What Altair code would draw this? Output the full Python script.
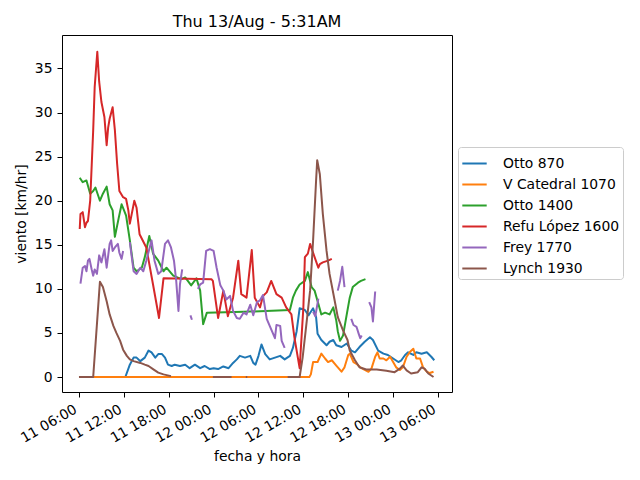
import altair as alt
import pandas as pd

series_names = ["Otto 870", "V Catedral 1070", "Otto 1400", "Refu López 1600", "Frey 1770", "Lynch 1930"]
series_colors = ["#1f77b4", "#ff7f0e", "#2ca02c", "#d62728", "#9467bd", "#8c564b"]
tick_hours = [0, 6, 12, 18, 24, 30, 36, 42, 48]
tick_labels = ["11 06:00", "11 12:00", "11 18:00", "12 00:00", "12 06:00",
               "12 12:00", "12 18:00", "13 00:00", "13 06:00"]
y_ticks = [0, 5, 10, 15, 20, 25, 30, 35]

# hours since 11/Aug 06:00, wind in km/h; None marks a gap in the record
otto870_h = [6.2, 6.8, 7.3, 7.7, 8.2, 8.8, 9.3, 9.7, 10.2, 10.6, 11.1, 11.5, 11.9, 12.4, 12.8,
             13.5, 14.2, 14.8, 15.5, 16.2, 16.8, 17.5, 18.0, 18.6, 19.3, 20.0, 20.6, 21.1, 21.5,
             22.2, 22.9, 23.3, 23.6, 24.0, 24.4, 24.9, 25.5, 26.2, 26.9, 27.5, 28.2, 28.6, 29.1,
             29.5, 30.2, 30.7, 31.3, 31.7, 31.9, 32.4, 33.1, 33.5, 34.0, 34.4, 35.1, 35.8, 36.4,
             36.9, 37.5, 38.2, 38.9, 39.3, 40.0, 40.7, 41.3, 42.0, 42.7, 43.1, 43.6, 44.0, 44.7,
             45.1, 45.8, 46.5, 47.1, 47.5]
otto870_v = [0.0, 1.4, 2.2, 2.2, 1.8, 2.2, 3.0, 2.8, 2.2, 2.6, 2.6, 2.2, 1.4, 1.25, 1.4,
             1.25, 1.4, 1.0, 1.4, 1.0, 1.25, 0.9, 1.0, 0.9, 1.2, 1.0, 1.6, 2.0, 2.4,
             2.2, 2.4, 1.6, 1.4, 2.4, 3.7, 2.6, 2.0, 2.2, 2.4, 2.0, 2.4, 3.3, 5.2,
             7.8, 7.6, 7.0, 7.8, 6.8, 4.9, 4.2, 3.6, 4.0, 4.2, 3.6, 3.4, 3.8, 3.0,
             2.8, 3.4, 4.0, 4.5, 4.2, 3.0, 2.65, 2.5, 2.1, 1.7, 1.9, 2.5, 2.8, 2.5,
             2.8, 2.65, 2.8, 2.3, 1.9]

vcatedral_h = [0.0, 30.8, 31.0, 31.3, 31.9, 32.4, 32.9, 33.3, 33.8, 34.4, 35.1, 35.5, 36.0, 36.2,
               36.7, 37.1, 37.6, 38.2, 38.7, 39.1, 39.6, 39.9, 40.2, 40.7, 41.1, 41.6, 42.0, 42.4,
               42.9, 43.3, 43.8, 44.2, 44.7, 45.1, 45.6, 46.0, 46.5, 46.9, 47.4]
vcatedral_v = [0.0, 0.0, 0.3, 1.7, 1.7, 2.65, 2.1, 1.7, 1.9, 1.3, 0.6, 1.1, 2.5, 2.65,
               1.7, 1.5, 1.1, 0.8, 0.6, 0.95, 2.3, 2.8, 2.1, 2.1, 1.9, 2.3, 1.7, 1.1,
               0.8, 1.1, 2.3, 2.8, 3.2, 2.1, 2.1, 1.1, 0.6, 0.45, 0.6]

otto1400_h = [0.1, 0.5, 1.0, 1.5, 1.9, 2.2, 2.8, 3.2, 3.7, 4.1, 4.5, 4.8, 5.3, 5.7, 6.3, 6.8,
              7.3, 7.7, 8.4, 8.8, 9.4, 9.9, 10.6, 11.3, 11.7, 12.6, 13.7, 14.2, 15.0, 15.7,
              16.2, 16.6, 17.1, 22.0, 28.2, 28.6, 29.0, 29.5, 30.2, 30.6, 31.1, 31.5, 32.0,
              32.4, 32.9, 33.5, 34.0, 34.4, 34.6, 34.9, 35.3, 35.8, 36.2, 36.6, 37.3, 37.7, 38.3]
otto1400_v = [22.6, 22.1, 22.3, 20.8, 21.1, 21.5, 20.0, 20.8, 21.6, 19.6, 18.9, 15.9, 18.0, 19.6, 18.3, 15.5,
              12.4, 12.0, 12.4, 13.6, 16.0, 14.0, 13.2, 12.0, 12.4, 11.5, 11.1, 11.3, 10.4, 11.2,
              9.8, 6.0, 7.3, 7.4, 7.6, 9.0, 9.8, 10.5, 10.9, 11.9, 10.2, 9.8, 8.3,
              7.1, 7.3, 7.1, 7.9, 6.4, 5.2, 4.1, 4.7, 7.1, 9.0, 10.2, 10.7, 10.9, 11.1]

refu_h = [0.1, 0.2, 0.5, 0.8, 1.0, 1.2, 1.5, 1.9, 2.1, 2.45, 2.7, 3.0, 3.4, 3.7, 3.9, 4.1, 4.5,
          4.8, 5.1, 5.4, 5.9, 6.3, 6.6, 6.8, 7.4, 7.7, 8.1, 9.0, 9.9, 10.7, 11.3, 17.7, 17.9,
          18.6, 19.3, 19.9, 20.6, 21.3, 21.7, 22.4, 23.1, 23.5, 24.2, 24.6, 25.1, 25.7, 26.4,
          27.1, 27.7, 28.4, 28.8, 29.5, 30.0, 30.2, 30.6, 30.9, 31.5, 32.0, 32.2, 32.6, 33.3, 33.8]
refu_v = [16.8, 18.5, 18.7, 17.0, 17.5, 17.7, 20.0, 28.0, 32.9, 36.9, 33.5, 31.2, 29.5, 26.3, 28.3, 29.3, 30.6,
          28.0, 24.2, 21.1, 20.4, 20.2, 18.9, 17.4, 20.0, 19.2, 16.2, 14.7, 10.5, 6.7, 11.2, 11.1, 10.9,
          6.7, 9.8, 6.9, 9.0, 13.2, 9.4, 9.0, 14.4, 9.0, 7.9, 9.2, 9.6, 10.9, 9.4,
          9.0, 7.9, 7.1, 4.5, 1.0, 7.9, 13.6, 14.0, 15.1, 13.6, 12.4, 12.8, 13.0, 13.2, 13.4]

frey_h = [0.2, 0.5, 0.8, 1.0, 1.2, 1.4, 1.7, 1.9, 2.1, 2.4, 2.7, 3.0, 3.4, 3.7, 4.1, 4.3, 4.5,
          4.8, 5.2, 5.4, 5.7, 5.9, None,
          6.8, 7.3, 7.7, 8.2, 8.6, 9.0, 9.7, 10.1, 10.6, 11.0, 11.5, 11.9, 12.3, 12.7, 13.0,
          13.3, 13.5, 13.8, None,
          14.9, 15.1, None,
          15.9, 16.2, 16.6, 17.0, 17.5, 18.0, 18.4, 18.9, 19.3, 19.7, 20.2, 20.6, 21.1, 21.5,
          22.0, 22.4, 22.9, 23.3, 23.8, 24.2, 24.6, 25.1, 25.5, 26.2, 26.4, 26.9, 27.1, 27.5, None,
          31.3, 31.6, 32.0, None,
          34.6, 34.9, 35.2, 35.5, None,
          36.4, 36.7, 37.1, 37.4, 37.6, 37.8, None,
          38.8, 39.1, 39.3, 39.6]
frey_v = [10.6, 12.4, 12.6, 12.0, 13.2, 13.4, 12.2, 11.5, 12.2, 11.7, 13.8, 13.0, 14.5, 12.4, 15.1, 15.5, 14.3,
          14.7, 15.1, 14.1, 13.4, 14.3, None,
          15.3, 12.0, 11.7, 12.4, 12.0, 13.2, 15.5, 13.2, 11.7, 12.0, 15.1, 15.5, 14.7, 13.2, 10.9,
          7.5, 10.5, 12.2, None,
          7.0, 6.5, None,
          10.0, 10.5, 10.7, 14.3, 14.5, 14.3, 12.4, 10.4, 9.8, 8.8, 9.2, 7.5, 6.7, 6.6,
          7.3, 7.1, 8.2, 7.0, 8.5, 8.7, 9.3, 6.6, 5.8, 4.4, 5.9, 5.8, 4.1, 3.3, None,
          7.4, 6.9, 8.9, None,
          9.8, 10.9, 12.5, 10.2, None,
          6.6, 5.9, 5.7, 4.9, 4.4, 4.7, None,
          8.5, 7.9, 6.3, 9.7]

lynch_h = [0.0, 1.9, 2.8, 3.2, 3.7, 4.1, 4.6, 5.0, 5.5, 5.9, 6.4, 6.8, 7.3, 8.2, 8.8, 9.3,
           9.9, 10.6, 11.3, 12.3, None,
           17.9, 20.4, None,
           22.3, 22.5, None,
           27.9, 29.5, 29.9, 30.3, 30.9, 31.3, 31.7, 31.85, 32.2, 32.6, 33.1, 33.5, 34.2, 34.6,
           35.3, 35.9, 36.2, 36.9, 37.5, 38.4, 39.8, 41.1, 42.2, 42.9, 43.3, 43.8, 44.4, 45.3,
           45.8, 46.2, 46.7, 47.4]
lynch_v = [0.0, 0.0, 10.8, 10.2, 8.6, 7.1, 5.8, 5.0, 4.1, 3.1, 2.4, 2.0, 1.8, 1.6, 1.4, 1.25,
           0.9, 0.5, 0.3, 0.1, None,
           0.0, 0.0, None,
           0.0, 0.0, None,
           0.0, 0.0, 2.2, 5.2, 9.8, 15.5, 22.3, 24.6, 23.0, 18.5, 14.3, 11.7, 8.6, 6.8,
           5.3, 4.2, 3.0, 1.9, 1.1, 0.85, 0.85, 0.7, 0.55, 0.95, 1.3, 0.75, 0.4, 0.55,
           1.1, 0.95, 0.4, 0.0]

series_data = [(otto870_h, otto870_v), (vcatedral_h, vcatedral_v), (otto1400_h, otto1400_v),
               (refu_h, refu_v), (frey_h, frey_v), (lynch_h, lynch_v)]

rows = []
for name, (hs, vs) in zip(series_names, series_data):
    seg = 0
    for h, v in zip(hs, vs):
        if v is None:
            seg += 1
            continue
        rows.append({"series": name, "seg": f"{name}-{seg}", "h": h, "v": v})
df = pd.DataFrame(rows)

font = "DejaVu Sans"
label_expr = "[" + ",".join(f"'{t}'" for t in tick_labels) + "][round(datum.value/6)]"

x_enc = alt.X("h:Q",
              scale=alt.Scale(domain=[-2.27, 49.87], nice=False, zero=False),
              axis=alt.Axis(values=tick_hours, labelExpr=label_expr, labelAngle=330,
                            labelAlign="right", labelBaseline="top", labelPadding=5,
                            labelOffset=-7, labelOverlap=False, labelBound=False,
                            title="fecha y hora", titlePadding=4),
              title="fecha y hora")
y_enc = alt.Y("v:Q",
              scale=alt.Scale(domain=[-1.7, 38.8], nice=False, zero=False),
              axis=alt.Axis(values=y_ticks, title="viento [km/hr]", titlePadding=6),
              title="viento [km/hr]")
color_enc = alt.Color("series:N",
                      scale=alt.Scale(domain=series_names, range=series_colors),
                      legend=alt.Legend(orient="none", legendX=396, legendY=112, title=None,
                                        symbolType="stroke", symbolSize=595, symbolStrokeWidth=2,
                                        labelFont=font, labelFontSize=13.9, labelColor="black",
                                        labelOffset=15, rowPadding=0, padding=3,
                                        strokeColor="#cccccc", fillColor="white", cornerRadius=3))

layers = []
for name in series_names:
    layers.append(
        alt.Chart(df)
        .transform_filter(alt.FieldEqualPredicate(field="series", equal=name))
        .mark_line(strokeWidth=2, strokeJoin="round")
        .encode(x=x_enc, y=y_enc, color=color_enc, detail="seg:N")
    )

chart = (
    alt.layer(*layers)
    .properties(
        width=390, height=357,
        title=alt.TitleParams("Thu 13/Aug - 5:31AM", font=font, fontSize=16, fontWeight="normal",
                              color="black", anchor="middle", offset=5),
        autosize=alt.AutoSizeParams(type="none"),
        padding={"left": 54, "top": 27, "right": 178, "bottom": 78},
    )
    .configure_view(stroke="black", strokeWidth=1)
    .configure_axis(domain=False, grid=False, tickColor="black", tickSize=5, tickWidth=1,
                    labelFont=font, labelFontSize=13.9, labelColor="black",
                    titleFont=font, titleFontSize=13.9, titleFontWeight="normal", titleColor="black")
    .configure_axisY(labelPadding=5)
)

chart.save("out.html", embed_options={"renderer": "svg", "actions": False})
